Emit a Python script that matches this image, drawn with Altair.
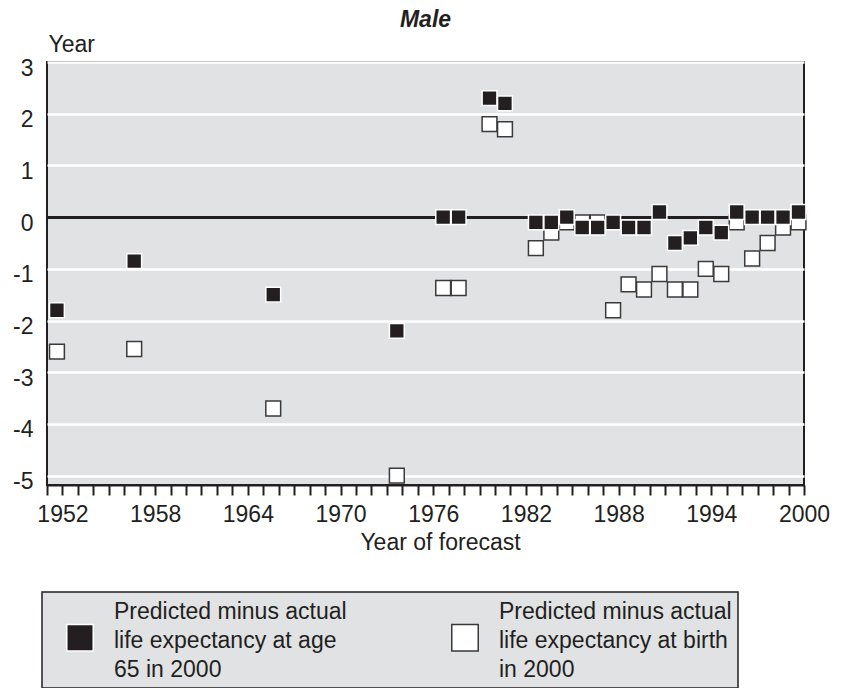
import altair as alt
import pandas as pd

# ---- data ----
years = [1952, 1957, 1966, 1974, 1977, 1978, 1980, 1981, 1983, 1984, 1985, 1986, 1987,
         1988, 1989, 1990, 1991, 1992, 1993, 1994, 1995, 1996, 1997, 1998, 1999, 2000]
age65 = [-1.8, -0.85, -1.5, -2.2, 0.0, 0.0, 2.3, 2.2, -0.1, -0.1, 0.0, -0.2, -0.2,
         -0.1, -0.2, -0.2, 0.1, -0.5, -0.4, -0.2, -0.3, 0.1, 0.0, 0.0, 0.0, 0.1]
birth = [-2.6, -2.55, -3.7, -5.0, -1.37, -1.37, 1.8, 1.7, -0.6, -0.3, -0.1, -0.1, -0.1,
         -1.8, -1.3, -1.4, -1.1, -1.4, -1.4, -1.0, -1.1, -0.1, -0.8, -0.5, -0.2, -0.1]
series_names = [
    "Predicted minus actual\nlife expectancy at age\n65 in 2000",
    "Predicted minus actual\nlife expectancy at birth\nin 2000",
]
y_ticks = [-5, -4, -3, -2, -1, 0, 1, 2, 3]
x_ticks = list(range(1951, 2001))
x_labels = [1952, 1958, 1964, 1970, 1976, 1982, 1988, 1994, 2000]
title_text = "Male"
x_title = "Year of forecast"
y_title = "Year"

DARK = "#231f20"
BG = "#e1e2e4"
FONT = "Liberation Sans, Arial, Helvetica, sans-serif"

# birth series first so that the black squares are drawn on top
rows = []
for yr, v in zip(years, birth):
    rows.append({"year": yr, "value": v, "series": series_names[1]})
for yr, v in zip(years, age65):
    rows.append({"year": yr, "value": v, "series": series_names[0]})
df = pd.DataFrame(rows)

x_scale = alt.Scale(domain=[1951, 2000], nice=False, zero=False)
y_scale = alt.Scale(domain=[-5.18, 3], nice=False, zero=False)

# square symbol lowered by one side so it sits beside the middle line of the 3-line label
legend_symbol = "M-1,0.95L1,0.95L1,2.95L-1,2.95Z"

legend = alt.Legend(
    title=None,
    orient="none",
    legendX=-5,
    legendY=530,
    direction="horizontal",
    columnPadding=86,
    padding=6,
    fillColor=BG,
    strokeColor=DARK,
    symbolType=legend_symbol,
    symbolSize=700,
    symbolStrokeWidth=1.5,
    symbolOffset=18,
    labelOffset=20,
    labelFontSize=23,
    labelColor=DARK,
    labelLimit=500,
    labelExpr="split(datum.label, '\\n')",
)

x_axis = alt.Axis(
    values=x_ticks,
    format="d",
    labelExpr=f"indexof({x_labels}, datum.value) >= 0 ? datum.label : ''",
    labelOverlap=False,
    labelFlush=False,
    labelFontSize=23,
    labelColor=DARK,
    labelPadding=8,
    tickSize=10,
    tickWidth=2,
    tickColor=DARK,
    domain=True,
    domainColor=DARK,
    domainWidth=2,
    grid=False,
    title=x_title,
    titleFontSize=23,
    titleFontWeight="normal",
    titleColor=DARK,
    titleX=393,
    titleY=64,
    titleAlign="center",
    titleBaseline="alphabetic",
)

y_axis = alt.Axis(
    values=y_ticks,
    labelExpr="'' + datum.value",
    labelFontSize=23,
    labelColor=DARK,
    labelPadding=14,
    labelOffset=6,
    ticks=False,
    tickSize=0,
    domain=False,
    grid=True,
    gridColor="white",
    gridWidth=2.5,
    title=y_title,
    titleFontSize=23,
    titleFontWeight="normal",
    titleColor=DARK,
    titleAngle=0,
    titleX=1,
    titleY=-11,
    titleAlign="left",
    titleBaseline="alphabetic",
)

zero_line = alt.Chart(df).mark_rule(color=DARK, strokeWidth=2.5).encode(
    y=alt.Y(datum=0, type="quantitative", scale=y_scale, axis=y_axis)
)

points = alt.Chart(df).mark_square(size=220, strokeWidth=1.5, opacity=1, xOffset=-5.5).encode(
    x=alt.X("year:Q", scale=x_scale, axis=x_axis),
    y=alt.Y("value:Q", scale=y_scale, axis=y_axis),
    fill=alt.Fill("series:N", scale=alt.Scale(domain=series_names, range=[DARK, "#ffffff"]), legend=legend),
    stroke=alt.Stroke("series:N", scale=alt.Scale(domain=series_names, range=["#ffffff", "#3a3a3a"]), legend=legend),
)

chart = alt.layer(zero_line, points).properties(
    width=757,
    height=423,
    padding={"left": 47, "top": 62, "right": 40, "bottom": 203},
    autosize="none",
    title=alt.TitleParams(
        title_text,
        fontSize=23,
        fontWeight="bold",
        fontStyle="italic",
        color=DARK,
        anchor="middle",
        frame="group",
        baseline="alphabetic",
        offset=7,
        dy=24,
    ),
).configure(
    font=FONT,
    style={"guide-label": {"lineHeight": 29}},
).configure_view(
    fill=BG,
    stroke=DARK,
    strokeWidth=2,
).configure_legend(
    strokeWidth=1.5,
)

chart.save("out.html", embed_options={"renderer": "svg", "actions": False})
